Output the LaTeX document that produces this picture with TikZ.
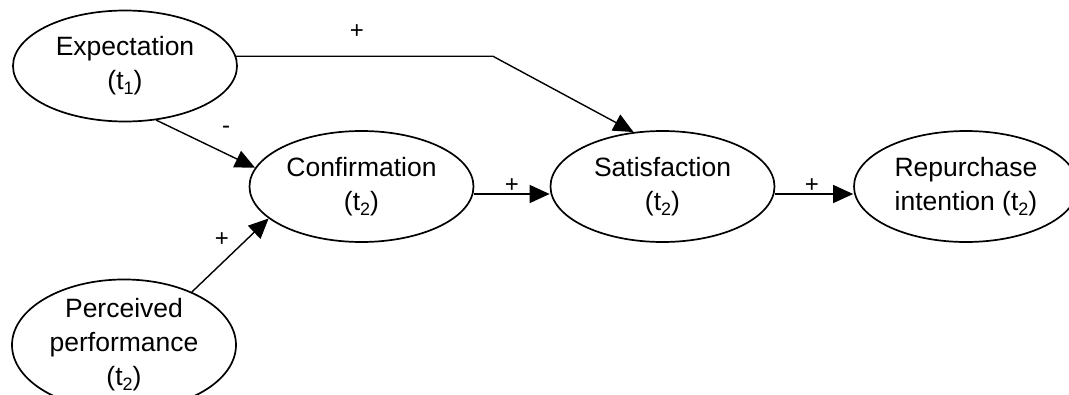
\documentclass[tikz,border=0pt]{standalone}
\usepackage{fontspec}
\setmainfont{Liberation Sans}
\usetikzlibrary{shapes.geometric,arrows.meta}
% time index, set low and large below the baseline
\newcommand{\tsub}[1]{\raisebox{-5pt}{\fontsize{18}{18}\selectfont #1}}
\begin{document}
\begin{tikzpicture}[x=1pt,y=-1pt,
  construct/.style={ellipse,draw,line width=1.7pt,minimum width=224pt,
    minimum height=111pt,inner sep=0pt,align=center,
    font=\fontsize{26.5}{34}\selectfont},
  link/.style={line width=1.4pt,-{Triangle[length=20pt,width=18pt]}},
  sign/.style={font=\fontsize{24}{24}\selectfont,inner sep=0pt}]
\path[use as bounding box,fill=white] (0,0) rectangle (1069,394);

% constructs
\node[construct] (exp)  at (125,66)    {Expectation\\(t\tsub{1})};
\node[construct] (conf) at (361.5,186.5) {Confirmation\\(t\tsub{2})};
\node[construct] (sat)  at (662.5,186.5) {Satisfaction\\(t\tsub{2})};
\node[construct] (rep)  at (966,186.5) {Repurchase\\intention (t\tsub{2})};
\node[construct,minimum height=115pt] (perc) at (124,345)
  {Perceived\\performance\\(t\tsub{2})};

% paths
\coordinate (bend) at (493,57);
\draw[link] (exp.5) -- (exp.5 -| bend) -- (sat.118);
\draw[link] (exp.-60) -- (conf.170);
\draw[link] (perc.38) -- (conf.199);
\draw[link] ([yshift=-7.5pt]conf.east) -- ([yshift=-7.5pt]sat.west);
\draw[link] ([yshift=-7.5pt]sat.east) -- ([yshift=-7.5pt]rep.west);

% signs
\node[sign] (s1) at (357,32)  {+};
\node[sign] (s2) at (226,130) {-};
\node[sign] (s3) at (222,240) {+};
\node[sign] (s4) at (512,186) {+};
\node[sign] (s5) at (812,186) {+};
\end{tikzpicture}
\end{document}
